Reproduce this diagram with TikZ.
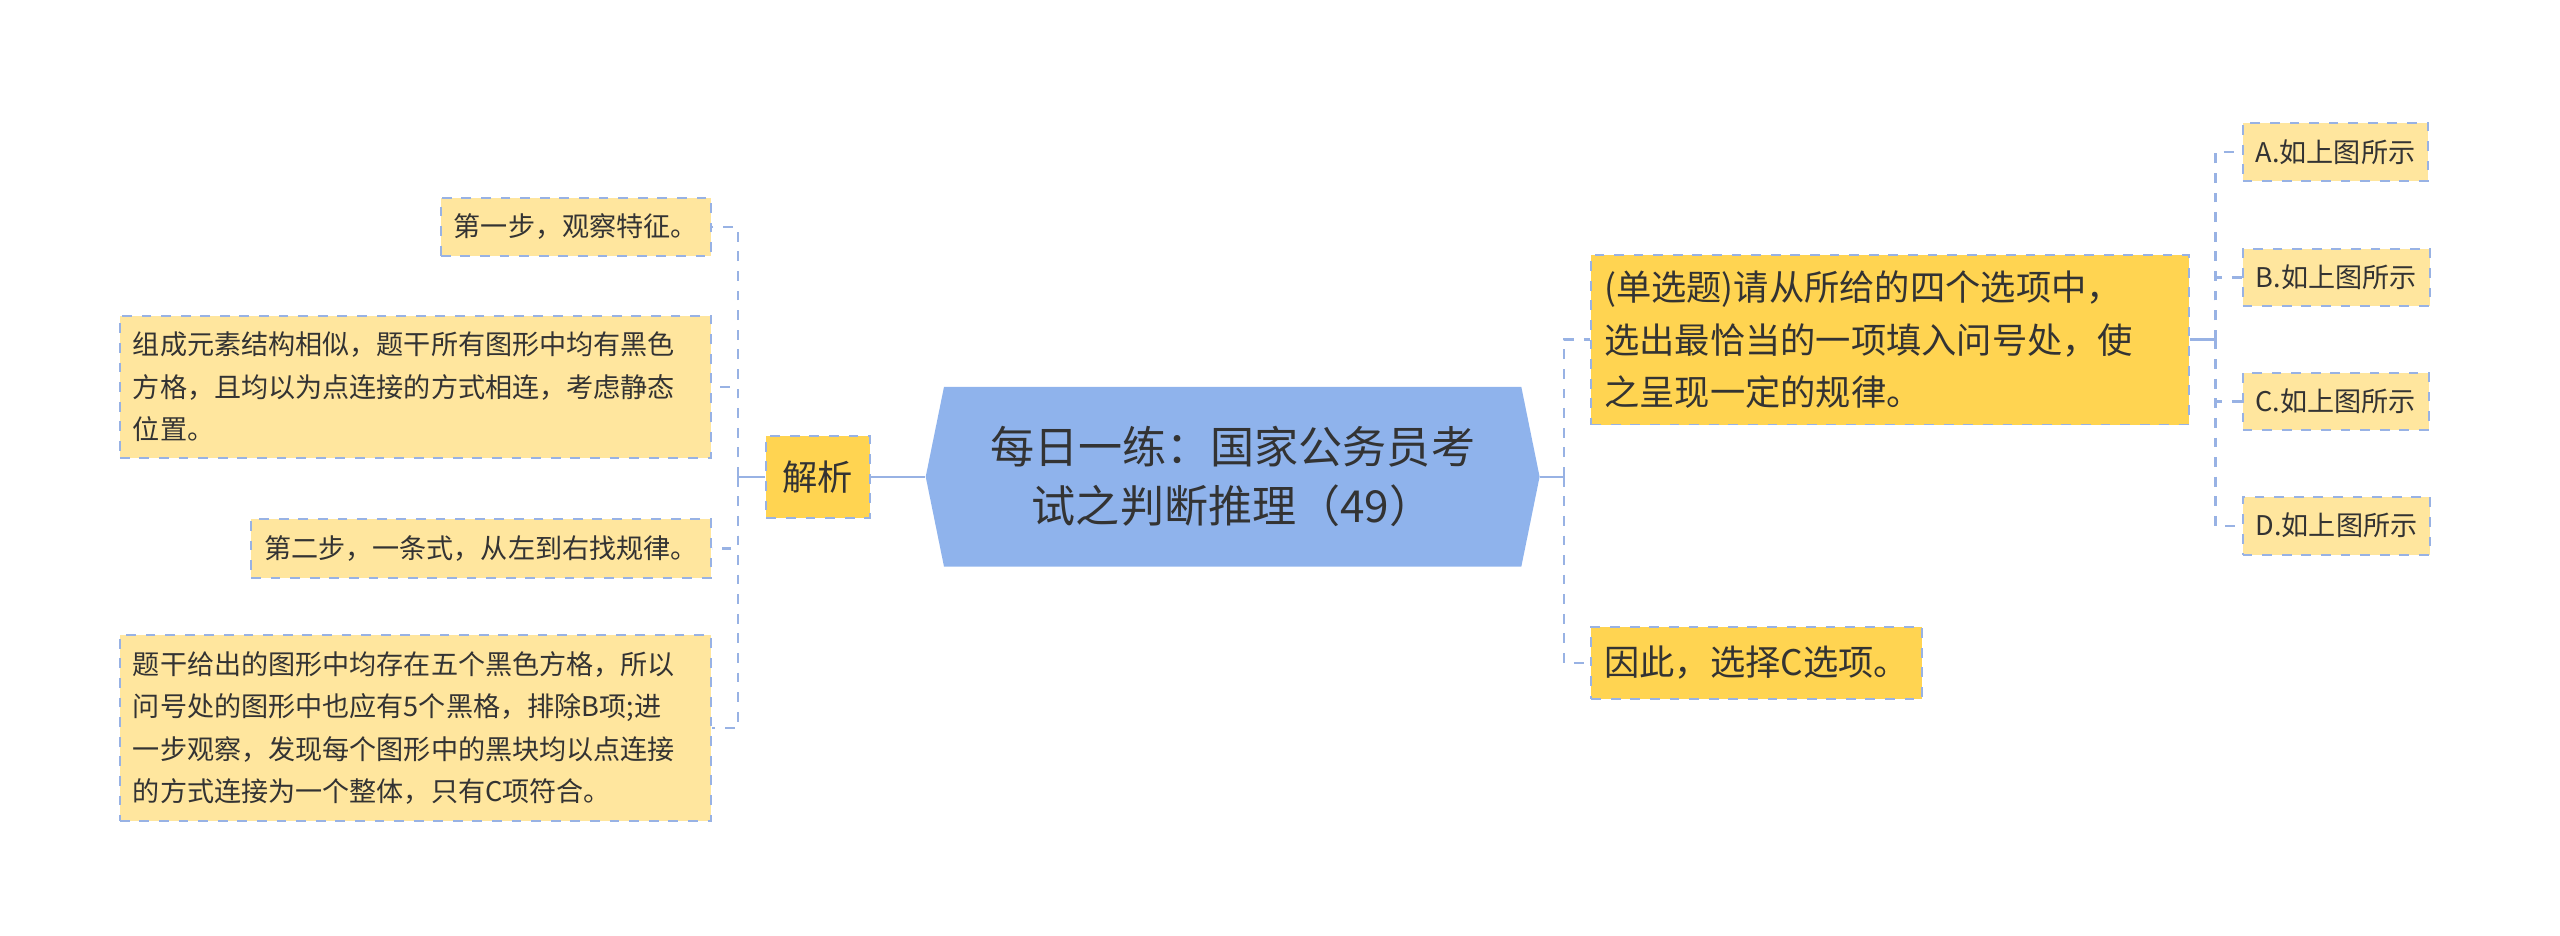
\documentclass[tikz,border=0pt]{standalone}
\usepackage{fontspec}
\setmainfont{Noto Sans CJK SC}
\usetikzlibrary{shapes.symbols}
\definecolor{hubblue}{HTML}{8FB3EC}
\definecolor{lineblue}{HTML}{98B2E4}
\definecolor{lightbox}{HTML}{FFE69E}
\definecolor{darkbox}{HTML}{FFD451}
\definecolor{txt}{HTML}{333333}
\tikzset{
  leaf/.style={draw=lineblue,dashed,fill=lightbox,text=txt,font=\fontsize{8.3}{13}\selectfont,
    inner xsep=4pt,inner ysep=5pt,align=left,line width=0.6pt},
  mid/.style={leaf,fill=darkbox,font=\fontsize{10.8}{16}\selectfont,inner ysep=6pt},
  link/.style={lineblue,line width=0.7pt},
  dlink/.style={link,dashed}
}
\begin{document}
\begin{tikzpicture}[x=0.5pt,y=-0.5pt]
  \useasboundingbox (0,0) rectangle (1568,573);
  % centre
  \node[signal,signal to=east and west,signal pointer angle=157,fill=hubblue,
    minimum width=188pt,minimum height=55pt,inner sep=2pt,text=txt,align=center,
    font=\fontsize{13.5}{18}\selectfont] (root) at (755,292) {每日一练：国家公务员考\\试之判断推理（49）};

  %% left side
  \node[mid,minimum height=25pt,inner xsep=5pt] (jx) at (501,292) {解析};
  \node[leaf,anchor=east] (s1) at (436,139) {第一步，观察特征。};
  \node[leaf,anchor=east,text width=173pt] (s2) at (436,237) {组成元素结构相似，题干所有图形中均有黑色\\方格，且均以为点连接的方式相连，考虑静态\\位置。};
  \node[leaf,anchor=east] (s3) at (436,336) {第二步，一条式，从左到右找规律。};
  \node[leaf,anchor=east,text width=173pt] (s4) at (436,446) {题干给出的图形中均存在五个黑色方格，所以\\问号处的图形中也应有5个黑格，排除B项;进\\一步观察，发现每个图形中的黑块均以点连接\\的方式连接为一个整体，只有C项符合。};
  \coordinate (lj) at (452,292);
  \draw[link] (root.west) -- (jx.east);
  \draw[link] (jx.west) -- (lj);
  \foreach \n in {s1,s2,s3,s4}
    \draw[dlink] (lj) |- (\n.east);

  %% right side
  \node[mid,anchor=west,text width=175pt,inner ysep=5pt] (q) at (974,208) {(单选题)请从所给的四个选项中，\\选出最恰当的一项填入问号处，使\\之呈现一定的规律。};
  \node[mid,anchor=west] (ans) at (974,406) {因此，选择C选项。};
  \coordinate (rj) at (958,292);
  \draw[link] (root.east) -- (rj);
  \foreach \n in {q,ans}
    \draw[dlink] (rj) |- (\n.west);

  %% options
  \node[leaf,anchor=west] (oa) at (1373,93) {A.如上图所示};
  \node[leaf,anchor=west] (ob) at (1373,170) {B.如上图所示};
  \node[leaf,anchor=west] (oc) at (1373,246) {C.如上图所示};
  \node[leaf,anchor=west] (od) at (1373,322) {D.如上图所示};
  \coordinate (oj) at (1357,208);
  \draw[link] (q.east) -- (oj);
  \foreach \n in {oa,ob,oc,od}
    \draw[dlink] (oj) |- (\n.west);
\end{tikzpicture}
\end{document}
